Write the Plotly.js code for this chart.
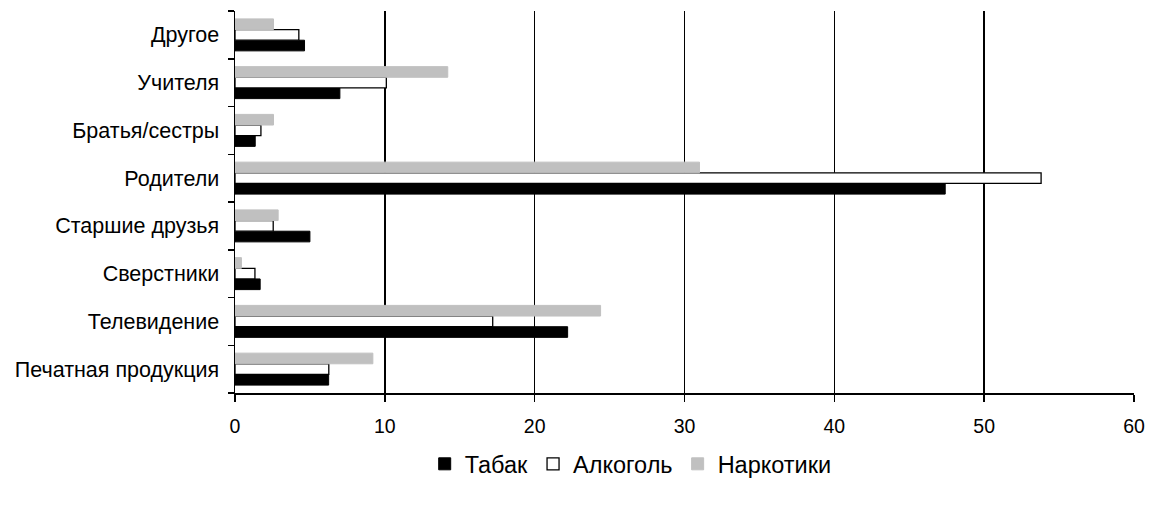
<!DOCTYPE html>
<html>
<head>
<meta charset="utf-8">
<script src="https://cdn.plot.ly/plotly-3.0.1.min.js"></script>
<style>
html,body{margin:0;padding:0;background:#fff;}
#chart{width:1153px;height:506px;}
</style>
</head>
<body>
<div id="chart"></div>
<script>
var categories = ["Печатная продукция", "Телевидение", "Сверстники", "Старшие друзья", "Родители", "Братья/сестры", "Учителя", "Другое"];
var seriesNames = ["Табак", "Алкоголь", "Наркотики"];
var tabak = [6.25, 22.2, 1.68, 5.0, 47.4, 1.35, 7.0, 4.64];
var alkogol = [6.26, 17.2, 1.33, 2.55, 53.8, 1.73, 10.1, 4.26];
var narkotiki = [9.2, 24.4, 0.43, 2.88, 31.0, 2.57, 14.2, 2.57];
var xTicks = [0, 10, 20, 30, 40, 50, 60];

var fontFam = "Liberation Sans, Arial, sans-serif";

var traces = [
  {type:"bar", orientation:"h", name:seriesNames[0], y:categories, x:tabak,
   marker:{color:"#000000", line:{color:"#000000", width:1}}},
  {type:"bar", orientation:"h", name:seriesNames[1], y:categories, x:alkogol,
   marker:{color:"#ffffff", line:{color:"#000000", width:1.3}}},
  {type:"bar", orientation:"h", name:seriesNames[2], y:categories, x:narkotiki,
   marker:{color:"#c0c0c0", line:{color:"#c0c0c0", width:1}}}
];

var layout = {
  width:1153, height:506,
  margin:{l:235, r:19, t:11, b:113},
  paper_bgcolor:"#ffffff", plot_bgcolor:"#ffffff",
  barmode:"group", bargap:0.33, bargroupgap:0,
  font:{family:fontFam, color:"#000000", size:18},
  showlegend:true,
  legend:{orientation:"h", x:0.211, xanchor:"left", y:-0.186, yanchor:"middle",
          font:{family:fontFam, size:23.5, color:"#000"}, traceorder:"normal",
          itemwidth:30, tracegroupgap:0},
  xaxis:{range:[0,60], tickvals:xTicks, ticktext:xTicks.map(String),
         showgrid:true, gridcolor:"#000000", gridwidth:1.5,
         showline:true, linecolor:"#000000", linewidth:1.5,
         zeroline:false, ticks:"outside", ticklen:7, tickcolor:"#000", tickwidth:1.5,
         ticklabelstandoff:8,
         tickfont:{family:fontFam, size:19.5, color:"#000"}, fixedrange:true},
  yaxis:{type:"category", categoryorder:"array", categoryarray:categories,
         showgrid:false, showline:true, linecolor:"#000000", linewidth:1.5,
         ticks:"outside", tickson:"boundaries", ticklen:6, tickcolor:"#000", tickwidth:1.5,
         ticklabelstandoff:10,
         tickfont:{family:fontFam, size:21.5, color:"#000"}, fixedrange:true}
};

Plotly.newPlot("chart", traces, layout, {displayModeBar:false, staticPlot:true});
</script>
</body>
</html>
